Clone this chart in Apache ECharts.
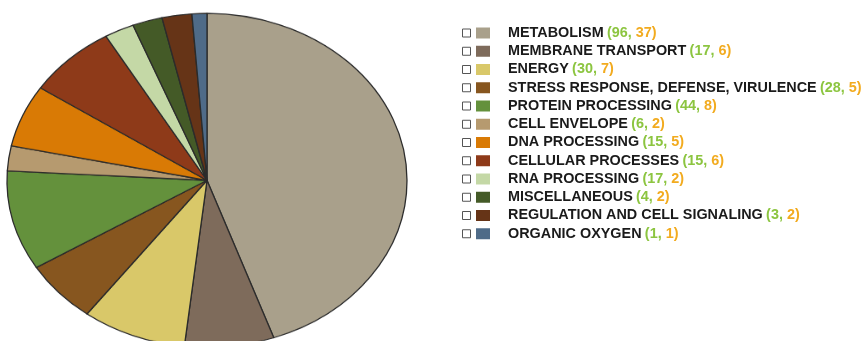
<!DOCTYPE html>
<html>
<head>
<meta charset="utf-8">
<script src="https://cdn.jsdelivr.net/npm/echarts@6/dist/echarts.min.js"></script>
<style>
  html, body { margin: 0; padding: 0; background: #ffffff; }
  #stage { position: relative; width: 863px; height: 341px; overflow: hidden; background: #ffffff; }
  #legend { position: absolute; left: 0; top: 0; width: 863px; height: 341px; }
  /* the pie is drawn as a circle and squashed vertically into an ellipse */
  #pie { position: absolute; left: -3px; top: 4.6px; width: 420px; height: 420px;
         transform: scaleY(0.835); transform-origin: 0 0; }
</style>
</head>
<body>
<div id="stage">
  <div id="legend"></div>
  <div id="pie"></div>
</div>
<script>
// Functional categories, in clockwise order from 12 o'clock
const categories = [
  'METABOLISM',
  'MEMBRANE TRANSPORT',
  'ENERGY',
  'STRESS RESPONSE, DEFENSE, VIRULENCE',
  'PROTEIN PROCESSING',
  'CELL ENVELOPE',
  'DNA PROCESSING',
  'CELLULAR PROCESSES',
  'RNA PROCESSING',
  'MISCELLANEOUS',
  'REGULATION AND CELL SIGNALING',
  'ORGANIC OXYGEN'
];
// First figure in each legend entry
const featureCounts = [96, 17, 30, 28, 44, 6, 15, 15, 17, 4, 3, 1];
// Second figure in each legend entry; slice sizes follow these
const subsystemCounts = [37, 6, 7, 5, 8, 2, 5, 6, 2, 2, 2, 1];
const sliceColors = [
  '#a9a08b', '#7e6b5b', '#d9c869', '#87561f', '#64913c', '#b69a6f',
  '#d97a05', '#8e3a19', '#c4d8a6', '#445a27', '#663417', '#4f6b88'
];

const pieChart = echarts.init(document.getElementById('pie'), null, { renderer: 'canvas' });
pieChart.setOption({
  animation: false,
  series: [{
    type: 'pie',
    center: [210, 210],
    radius: 200,
    startAngle: 90,
    clockwise: true,
    label: { show: false },
    labelLine: { show: false },
    emphasis: { disabled: true },
    itemStyle: { borderColor: '#2b2b2b', borderWidth: 1.3 },
    data: categories.map((name, i) => ({
      name: name,
      value: subsystemCounts[i],
      itemStyle: { color: sliceColors[i] }
    }))
  }]
});

// Legend: check box, colour swatch and label with both counts
const rowTop = 33;
const rowStep = 18.25;
const labelFont = 'Liberation Sans, Arial, sans-serif';
const labelSize = 14.4;
const legendElements = [];
categories.forEach((name, i) => {
  const y = rowTop + i * rowStep;
  legendElements.push({
    type: 'rect',
    shape: { x: 462.5, y: y - 4, width: 8, height: 8 },
    style: { fill: '#ffffff', stroke: '#555555', lineWidth: 1 }
  });
  legendElements.push({
    type: 'rect',
    shape: { x: 476, y: y - 5.5, width: 14, height: 11 },
    style: { fill: sliceColors[i] }
  });
  legendElements.push({
    type: 'text',
    x: 508,
    y: y,
    style: {
      text: '{n|' + name + '} {a|(' + featureCounts[i] + ', }{b|' + subsystemCounts[i] + ')}',
      verticalAlign: 'middle',
      align: 'left',
      rich: {
        n: { fontFamily: labelFont, fontWeight: 'bold', fontSize: labelSize, fill: '#1a1a1a' },
        a: { fontFamily: labelFont, fontWeight: 'bold', fontSize: labelSize, fill: '#8cc540' },
        b: { fontFamily: labelFont, fontWeight: 'bold', fontSize: labelSize, fill: '#f2ab1f' }
      }
    }
  });
});

const legendChart = echarts.init(document.getElementById('legend'), null, { renderer: 'canvas' });
legendChart.setOption({
  animation: false,
  graphic: legendElements
});
</script>
</body>
</html>
